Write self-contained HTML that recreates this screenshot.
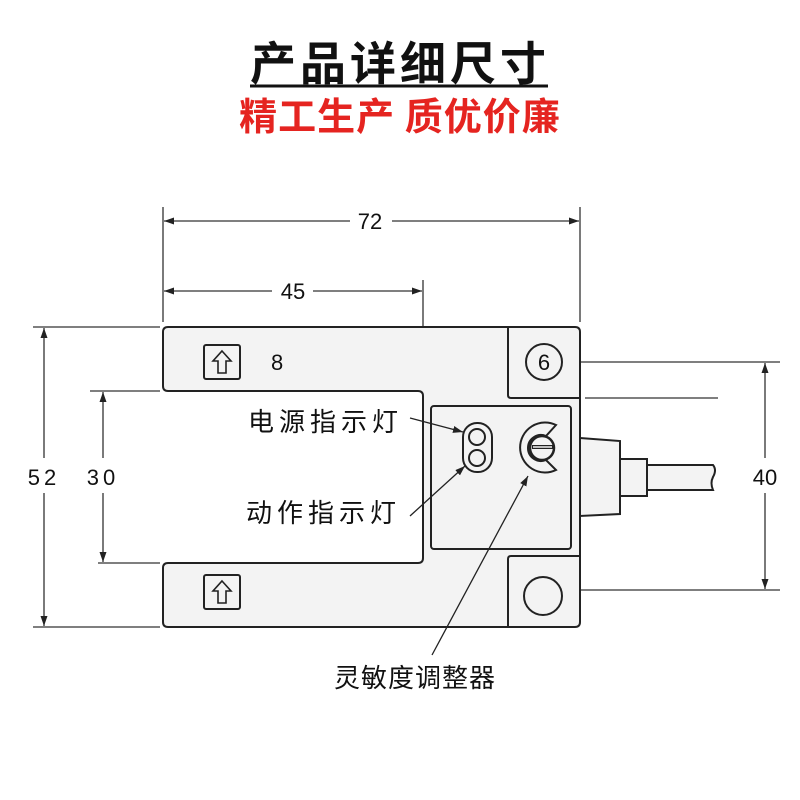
<!DOCTYPE html>
<html><head><meta charset="utf-8"><style>
body{margin:0;background:#fff;}
svg{display:block;}
.t{font-family:"Liberation Sans","Noto Sans CJK SC",sans-serif;}
</style></head><body>
<svg width="800" height="800" viewBox="0 0 800 800" xmlns="http://www.w3.org/2000/svg">
<defs>
<marker id="a" viewBox="0 0 10 10" refX="10" refY="5" markerWidth="10" markerHeight="10" orient="auto-start-reverse" markerUnits="userSpaceOnUse"><path d="M0,1.5 L10,5 L0,8.5 z" fill="#222"/></marker>
</defs>
<text x="400" y="80" text-anchor="middle" class="t" font-size="46" font-weight="bold" fill="#111" letter-spacing="4" style="font-family:'Noto Sans CJK SC',sans-serif">产品详细尺寸</text>
<line x1="250" y1="86" x2="548" y2="86" stroke="#111" stroke-width="3"/>
<text x="400" y="130" text-anchor="middle" class="t" font-size="38" font-weight="bold" fill="#e52420" letter-spacing="1" style="font-family:'Noto Sans CJK SC',sans-serif">精工生产 质优价廉</text>

<g stroke="#333" stroke-width="1.3" fill="none">
<line x1="163" y1="207" x2="163" y2="322"/>
<line x1="580" y1="207" x2="580" y2="322"/>
<line x1="423" y1="280" x2="423" y2="390"/>
<line x1="33" y1="327" x2="160" y2="327"/>
<line x1="33" y1="627" x2="160" y2="627"/>
<line x1="90" y1="391" x2="160" y2="391"/>
<line x1="98" y1="563" x2="160" y2="563"/>
<line x1="562" y1="362" x2="780" y2="362"/>
<line x1="562" y1="590" x2="780" y2="590"/>
<line x1="585" y1="398" x2="718" y2="398"/>
<line x1="164" y1="221" x2="350" y2="221" marker-start="url(#a)"/>
<line x1="392" y1="221" x2="579" y2="221" marker-end="url(#a)"/>
<line x1="164" y1="291" x2="272" y2="291" marker-start="url(#a)"/>
<line x1="313" y1="291" x2="422" y2="291" marker-end="url(#a)"/>
<line x1="44" y1="328" x2="44" y2="458" marker-start="url(#a)"/>
<line x1="44" y1="493" x2="44" y2="626" marker-end="url(#a)"/>
<line x1="103" y1="392" x2="103" y2="458" marker-start="url(#a)"/>
<line x1="103" y1="493" x2="103" y2="562" marker-end="url(#a)"/>
<line x1="765" y1="363" x2="765" y2="458" marker-start="url(#a)"/>
<line x1="765" y1="493" x2="765" y2="589" marker-end="url(#a)"/>
<line x1="267" y1="329" x2="267" y2="390" marker-start="url(#a)" marker-end="url(#a)"/>
</g>

<g stroke="#222" stroke-width="2" fill="#f3f3f3">
<path d="M580,438 L620,441 L620,514 L580,516 z"/>
<rect x="620" y="459" width="27" height="37"/>
<path d="M647,465 L713,465 Q717,470 713,477 Q710,483 713,490 L647,490 z"/>
</g>

<path d="M168,327 L575,327 Q580,327 580,332 L580,622 Q580,627 575,627 L168,627 Q163,627 163,622 L163,568 Q163,563 168,563 L418,563 Q423,563 423,558 L423,396 Q423,391 418,391 L168,391 Q163,391 163,386 L163,332 Q163,327 168,327 z" fill="#f3f3f3" stroke="#222" stroke-width="2"/>
<g stroke="#222" stroke-width="2" fill="none">
<path d="M508,328 L508,395 Q508,398 511,398 L580,398"/>
<path d="M580,556 L511,556 Q508,556 508,559 L508,627"/>
<rect x="431" y="406" width="140" height="143" rx="3"/>
<circle cx="544" cy="362" r="18"/>
<circle cx="543" cy="596" r="19"/>
<rect x="204" y="345" width="36" height="34" rx="2"/>
<rect x="204" y="575" width="36" height="34" rx="2"/>
<path d="M222,351 L231,361 L226,361 L226,373 L218,373 L218,361 L213,361 z" stroke-width="1.6"/>
<path d="M222,581 L231,591 L226,591 L226,603 L218,603 L218,591 L213,591 z" stroke-width="1.6"/>
<rect x="463" y="423" width="29" height="49" rx="14"/>
<circle cx="477" cy="437" r="8"/>
<circle cx="477" cy="458" r="8"/>
<path d="M556,425 A25,25 0 1 0 556,470 L546,460 A13,13 0 1 1 546,436 z"/>
<circle cx="542" cy="448" r="12" stroke-width="2.5"/>
<line x1="532" y1="447" x2="553" y2="447" stroke-width="4"/>
<line x1="533" y1="447" x2="552" y2="447" stroke="#f3f3f3" stroke-width="1.5"/>
</g>
<g stroke="#222" stroke-width="1.3">
<line x1="410" y1="418" x2="463" y2="432" marker-end="url(#a)"/>
<line x1="410" y1="516" x2="465" y2="466" marker-end="url(#a)"/>
<line x1="432" y1="655" x2="528" y2="476" marker-end="url(#a)"/>
</g>

<g class="t" fill="#111" font-size="22">
<text x="370" y="229" text-anchor="middle">72</text>
<text x="293" y="299" text-anchor="middle">45</text>
<text x="44" y="485" text-anchor="middle" letter-spacing="4">52</text>
<text x="103" y="485" text-anchor="middle" letter-spacing="4">30</text>
<text x="765" y="485" text-anchor="middle">40</text>
<text x="271" y="370">8</text>
<text x="544" y="370" text-anchor="middle">6</text>
<text x="248" y="431" font-size="26" letter-spacing="5">电源指示灯</text>
<text x="246" y="522" font-size="26" letter-spacing="5">动作指示灯</text>
<text x="415" y="687" text-anchor="middle" font-size="26" letter-spacing="1">灵敏度调整器</text>
</g>
</svg>
</body></html>
